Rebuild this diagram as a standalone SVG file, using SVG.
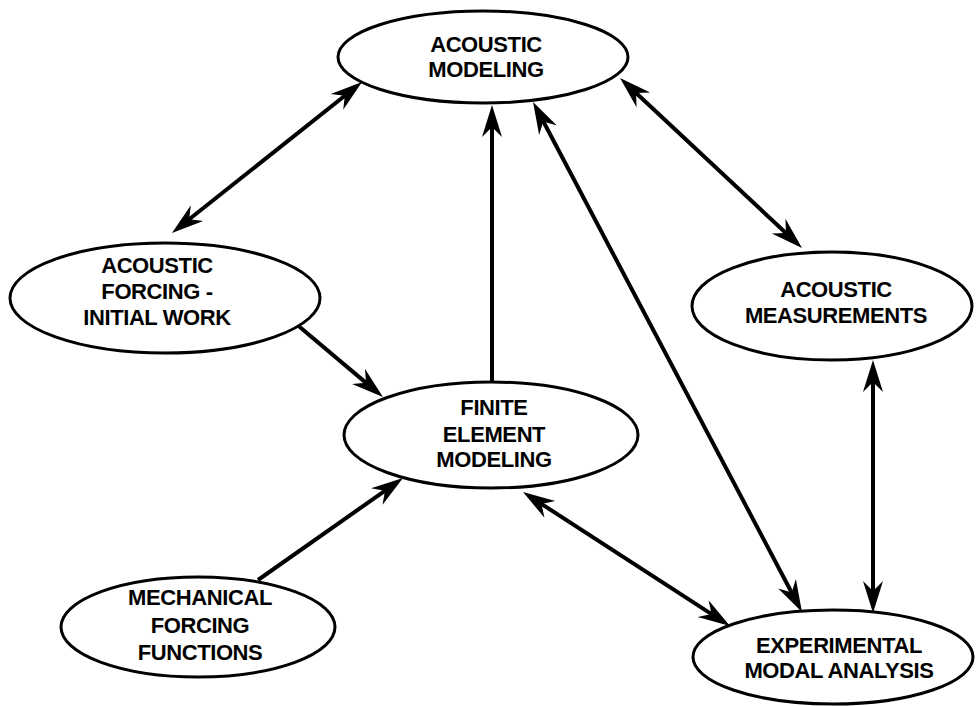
<svg xmlns="http://www.w3.org/2000/svg" width="976" height="706" viewBox="0 0 976 706">
<style>
.node ellipse{fill:#fff;stroke:#000;stroke-width:3}
.node text{font-family:"Liberation Sans",Arial,sans-serif;font-size:22px;font-weight:bold;letter-spacing:-0.4px;text-anchor:middle;fill:#000}
.conn line{stroke:#000;stroke-width:4;fill:none}
</style>
<defs>
<marker id="ah" markerUnits="userSpaceOnUse" viewBox="0 0 34 24" markerWidth="34" markerHeight="24" refX="22" refY="12" orient="auto-start-reverse">
<path d="M32,12 L0,2 L10,12 L0,22 Z" fill="#000"/>
</marker>
</defs>
<rect width="976" height="706" fill="#fff"/>
<g id="connectors" class="conn">
<line x1="354.2" y1="88.2" x2="179.8" y2="226.8" marker-start="url(#ah)" marker-end="url(#ah)"/>
<line x1="627.3" y1="84.8" x2="794.7" y2="241.2" marker-start="url(#ah)" marker-end="url(#ah)"/>
<line x1="492" y1="383" x2="492" y2="115" marker-end="url(#ah)"/>
<line x1="537.7" y1="110.8" x2="797.3" y2="603.2" marker-start="url(#ah)" marker-end="url(#ah)"/>
<line x1="295" y1="323" x2="375.3" y2="390.6" marker-end="url(#ah)"/>
<line x1="258" y1="580" x2="394.8" y2="483.8" marker-end="url(#ah)"/>
<line x1="531.4" y1="497.4" x2="721.6" y2="620.6" marker-start="url(#ah)" marker-end="url(#ah)"/>
<line x1="873" y1="370" x2="873" y2="603" marker-start="url(#ah)" marker-end="url(#ah)"/>
</g>
<g id="acoustic-modeling" class="node">
<ellipse cx="483" cy="57" rx="145" ry="46"/>
<text x="486" y="52">ACOUSTIC</text>
<text x="486" y="77">MODELING</text>
</g>
<g id="acoustic-forcing" class="node">
<ellipse cx="165" cy="298" rx="155" ry="55"/>
<text x="157" y="273">ACOUSTIC</text>
<text x="157" y="299">FORCING -</text>
<text x="157" y="325">INITIAL WORK</text>
</g>
<g id="acoustic-measurements" class="node">
<ellipse cx="832" cy="306" rx="140" ry="54"/>
<text x="836" y="297">ACOUSTIC</text>
<text x="836" y="323">MEASUREMENTS</text>
</g>
<g id="finite-element-modeling" class="node">
<ellipse cx="491" cy="435" rx="147" ry="53"/>
<text x="494" y="415">FINITE</text>
<text x="494" y="442">ELEMENT</text>
<text x="494" y="467">MODELING</text>
</g>
<g id="mechanical-forcing" class="node">
<ellipse cx="198" cy="627" rx="137" ry="50"/>
<text x="200" y="605">MECHANICAL</text>
<text x="200" y="633">FORCING</text>
<text x="200" y="660">FUNCTIONS</text>
</g>
<g id="experimental-modal-analysis" class="node">
<ellipse cx="833" cy="657" rx="140" ry="47"/>
<text x="839" y="653">EXPERIMENTAL</text>
<text x="839" y="678">MODAL ANALYSIS</text>
</g>
</svg>
